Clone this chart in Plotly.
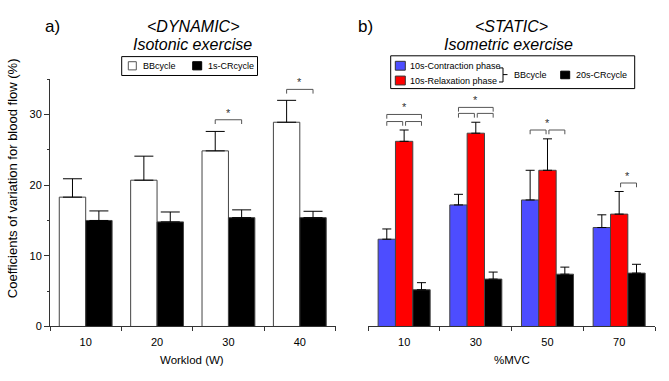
import plotly.graph_objects as go

W, H = 669, 381
FONT = "Arial, 'Liberation Sans', Helvetica, sans-serif"

# ---------------- data ----------------
workload_labels = ["10", "20", "30", "40"]
bb_dyn = [18.3, 20.7, 24.85, 28.9]
bb_dyn_err = [2.6, 3.4, 2.75, 3.1]
cr_dyn = [15.0, 14.8, 15.4, 15.4]
cr_dyn_err = [1.35, 1.4, 1.1, 0.9]

mvc_labels = ["10", "30", "50", "70"]
contr = [12.35, 17.2, 17.9, 14.0]
contr_err = [1.45, 1.5, 4.2, 1.8]
relax = [26.2, 27.35, 22.1, 15.9]
relax_err = [1.6, 1.55, 4.45, 3.2]
cr_sta = [5.2, 6.7, 7.4, 7.55]
cr_sta_err = [1.0, 1.0, 1.0, 1.25]

y_ticks = [0, 10, 20, 30]

# significance brackets: panel, category, bar from, bar to, level
sig_panel = ["a", "a", "b", "b", "b", "b", "b", "b", "b", "b", "b"]
sig_cat = [2, 3, 0, 0, 0, 1, 1, 1, 2, 2, 3]
sig_from = [0, 0, 0, 1, 0, 0, 1, 0, 0, 1, 1]
sig_to = [1, 1, 1, 2, 2, 1, 2, 2, 1, 2, 2]
sig_level = [29.25, 33.55, 29.0, 29.0, 30.0, 30.15, 30.15, 31.0, 27.8, 27.8, 20.3]

# ---------------- geometry helpers ----------------
def px(x):
    return x / W

def py(y):
    return 1 - y / H

XDOM_A = [px(50), px(335.5)]
XDOM_B = [px(368.3), px(655)]
YDOM = [py(331.7), py(80.4)]

BW_A = 0.37
OFF_A = [-0.37, 0.0]
BW_B = 0.242
OFF_B = [-0.363, -0.121, 0.121]

def bar_center(panel, cat, k):
    if panel == "a":
        return cat + OFF_A[k] + BW_A / 2
    return cat + OFF_B[k] + BW_B / 2

OUTLINE = dict(color="#444444", width=1)

fig = go.Figure()
xs = list(range(4))

def add_bar(x, y, err, color, width, offset, xa, ya, capw):
    fig.add_trace(go.Bar(
        x=x, y=y, width=width, offset=offset,
        marker=dict(color=color, line=OUTLINE),
        error_y=dict(type="data", array=err, arrayminus=[0] * len(err), symmetric=False,
                     color="black", thickness=1, width=capw),
        xaxis=xa, yaxis=ya, showlegend=False, hoverinfo="skip"))

add_bar(xs, bb_dyn, bb_dyn_err, "white", BW_A, OFF_A[0], "x", "y", 9.5)
add_bar(xs, cr_dyn, cr_dyn_err, "black", BW_A, OFF_A[1], "x", "y", 9.5)
add_bar(xs, contr, contr_err, "#4d4dff", BW_B, OFF_B[0], "x2", "y2", 4.5)
add_bar(xs, relax, relax_err, "#ff0000", BW_B, OFF_B[1], "x2", "y2", 4.5)
add_bar(xs, cr_sta, cr_sta_err, "black", BW_B, OFF_B[2], "x2", "y2", 4.5)

shapes = []
annotations = []

# brackets
LEG = 0.6
GAP = 0.02
for p, c, f, t, lv in zip(sig_panel, sig_cat, sig_from, sig_to, sig_level):
    xr = "x" if p == "a" else "x2"
    yr = "y" if p == "a" else "y2"
    x0 = bar_center(p, c, f)
    x1 = bar_center(p, c, t)
    if p == "b" and t - f == 1:
        if f == 1:
            x0 += GAP
        if t == 1:
            x1 -= GAP
    path = f"M {x0},{lv - LEG} L {x0},{lv} L {x1},{lv} L {x1},{lv - LEG}"
    shapes.append(dict(type="path", path=path, xref=xr, yref=yr,
                       line=dict(color="#555555", width=1)))

# stars over the highest bracket(s) of each group
groups = {}
for p, c, f, t, lv in zip(sig_panel, sig_cat, sig_from, sig_to, sig_level):
    groups.setdefault((p, c), []).append((f, t, lv))
for (p, c), items in groups.items():
    top = max(i[2] for i in items)
    spans = [i for i in items if i[2] == top]
    lo = min(s[0] for s in spans)
    hi = max(s[1] for s in spans)
    xm = (bar_center(p, c, lo) + bar_center(p, c, hi)) / 2
    annotations.append(dict(text="*", x=xm, y=top, xref="x" if p == "a" else "x2",
                            yref="y" if p == "a" else "y2", showarrow=False,
                            xanchor="center", yanchor="bottom", yshift=-1,
                            font=dict(size=11, color="#333333", family=FONT)))

def ann(text, x, y, size, xanchor="center", italic=False, angle=0):
    t = f"<i>{text}</i>" if italic else text
    annotations.append(dict(text=t, x=px(x), y=py(y), xref="paper", yref="paper",
                            showarrow=False, xanchor=xanchor, yanchor="middle",
                            textangle=angle, font=dict(size=size, color="black", family=FONT)))

# titles
ann("a)", 42.5, 26.5, 17, xanchor="left")
ann("&lt;DYNAMIC&gt;", 193, 26.5, 16, italic=True)
ann("Isotonic exercise", 192.5, 45.5, 16, italic=True)
ann("b)", 356.5, 26.5, 17, xanchor="left")
ann("&lt;STATIC&gt;", 511.5, 26.5, 16, italic=True)
ann("Isometric exercise", 508.5, 45.5, 16, italic=True)

# axis titles
ann("Coefficients of variation for blood flow (%)", 12, 181, 13, angle=-90)
ann("Worklod (W)", 191.7, 366, 11.5)
ann("%MVC", 511.7, 366, 11.5)

def rect(x0, y0, x1, y1, fill, line="black"):
    shapes.append(dict(type="rect", xref="paper", yref="paper",
                       x0=px(x0), x1=px(x1), y0=py(y1), y1=py(y0),
                       fillcolor=fill, line=dict(color=line, width=1)))

def seg(x0, y0, x1, y1):
    shapes.append(dict(type="line", xref="paper", yref="paper",
                       x0=px(x0), x1=px(x1), y0=py(y0), y1=py(y1),
                       line=dict(color="black", width=1)))

# legend a
rect(121.7, 57.5, 257.5, 76.7, "white")
rect(128.3, 62.7, 136.3, 71, "white", "#555555")
ann("BBcycle", 140.5, 67, 9, xanchor="left")
rect(192.7, 62.7, 201.7, 71, "black")
ann("1s-CRcycle", 205.5, 67, 9, xanchor="left")

# legend b
rect(390.7, 56.7, 634.7, 90, "white")
rect(395.3, 62.3, 405.3, 71.3, "#4d4dff", "#333333")
ann("10s-Contraction phase", 408, 67.5, 9, xanchor="left")
rect(395.3, 77.3, 405.3, 86.3, "#ff0000", "#333333")
ann("10s-Relaxation phase", 408, 82, 9, xanchor="left")
seg(499, 69, 503, 69)
seg(503, 69, 503, 83.3)
seg(499, 83.3, 503, 83.3)
seg(503, 75.8, 507.5, 75.8)
ann("BBcycle", 511.5, 76, 9, xanchor="left")
rect(560.7, 72.3, 569.7, 80, "black")
ann("20s-CRcycle", 573.5, 76, 9, xanchor="left")

tickfont = dict(size=11, color="black", family=FONT)

fig.update_layout(
    width=W, height=H,
    margin=dict(l=0, r=0, t=0, b=0),
    paper_bgcolor="white", plot_bgcolor="white",
    barmode="overlay",
    shapes=shapes, annotations=annotations,
    font=dict(family=FONT),
    xaxis=dict(domain=XDOM_A, range=[-0.5, 3.5], anchor="y",
               tickmode="array", tickvals=xs, ticktext=workload_labels,
               ticks="outside", ticklen=5, tickcolor="rgba(0,0,0,0)",
               showline=True, linecolor="#333333", linewidth=1,
               showgrid=False, zeroline=False, tickfont=tickfont,
               minor=dict(tickmode="array", tickvals=[-0.5, 0.5, 1.5, 2.5, 3.5],
                          ticks="outside", ticklen=4, tickcolor="#333333", showgrid=False)),
    yaxis=dict(domain=YDOM, range=[0, 35], anchor="x",
               tickmode="array", tickvals=y_ticks,
               ticks="outside", ticklen=5, tickcolor="#333333",
               showline=True, linecolor="#333333", linewidth=1,
               showgrid=False, zeroline=False, tickfont=tickfont,
               minor=dict(tickmode="array", tickvals=[5, 15, 25, 35],
                          ticks="outside", ticklen=2, tickcolor="#333333", showgrid=False)),
    xaxis2=dict(domain=XDOM_B, range=[-0.5, 3.5], anchor="y2",
                tickmode="array", tickvals=xs, ticktext=mvc_labels,
                ticks="outside", ticklen=5, tickcolor="rgba(0,0,0,0)",
                showline=True, linecolor="#333333", linewidth=1,
                showgrid=False, zeroline=False, tickfont=tickfont,
                minor=dict(tickmode="array", tickvals=[-0.5, 0.5, 1.5, 2.5, 3.5],
                           ticks="outside", ticklen=4, tickcolor="#333333", showgrid=False)),
    yaxis2=dict(domain=YDOM, range=[0, 35], anchor="x2", visible=False),
)

fig.write_html(
    "out.html",
    config={"displayModeBar": False},
    post_script=("document.documentElement.style.margin='0';"
                 "document.body.style.margin='0';"
                 "var gd=document.getElementById('{plot_id}');"
                 "gd.style.position='fixed';gd.style.top='0px';gd.style.left='0px';"),
)
